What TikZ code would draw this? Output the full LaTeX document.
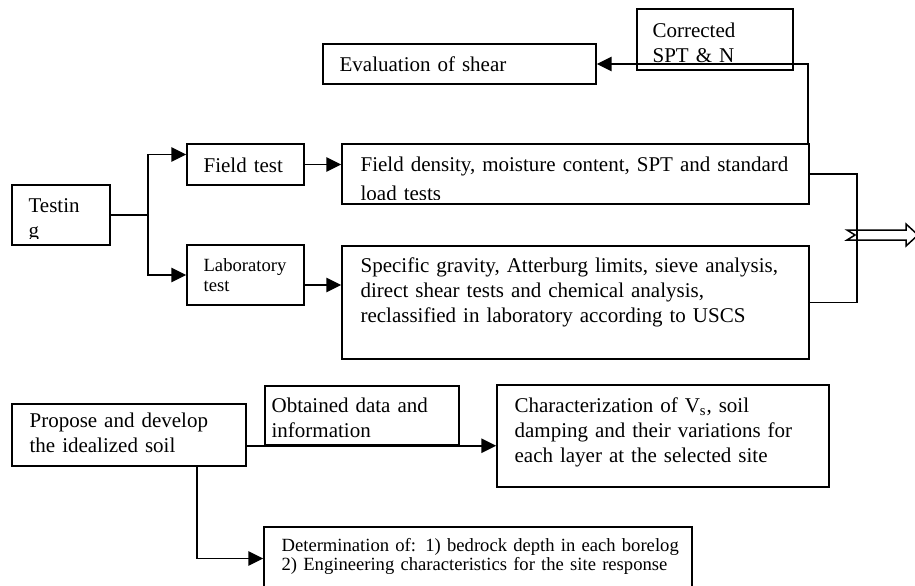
\documentclass[tikz,border=0pt]{standalone}
\usepackage{fontspec}
\setmainfont{Liberation Serif}
\usetikzlibrary{arrows.meta,fit}
\newcommand{\fn}{\fontsize{11.95pt}{14.2pt}\selectfont}
\newcommand{\fs}{\fontsize{10.6pt}{11.4pt}\selectfont}
\tikzset{bx/.style={draw,line width=0.85pt,inner sep=0pt}}
\tikzset{tx/.style={anchor=base west,inner sep=0pt,align=left,font=\fn,text width=#1},tx/.default=4cm}
\tikzset{ln/.style={draw,line width=0.85pt}}
\tikzset{ar/.style={draw,line width=0.85pt,-{Triangle[length=8.5pt,width=8.2pt]}}}

\begin{document}
\begin{tikzpicture}[x=0.02cm,y=-0.02cm]
                \useasboundingbox (0,0) rectangle (915,585);
                % boxes
                \node[bx,fit={(12,185)(110,245)}] (tst) {};
                \node[bx,fit={(187,144)(304,185)}] (fld) {};
                \node[bx,fit={(187,245)(304,305)}] (lab) {};
                \node[bx,fit={(342,144)(809,204)}] (fd) {};
                \node[bx,fit={(342,246)(809,359)}] (ld) {};
                \node[bx,fit={(323,44)(596,84)}] (ev) {};
                \node[bx,fit={(637,9)(793,70)}] (cor) {};
                \node[bx,fit={(12,404)(246,466)}] (pr) {};
                \node[bx,fit={(265,386)(459,445)}] (ob) {};
                \node[bx,fit={(497,385)(829,487)}] (ch) {};
                \node[bx,fit={(264,527)(692,590)}] (det) {};
                % texts
                \begin{scope}
                \clip (tst.north west) rectangle ([shift={(0,-7)}]tst.south east);
                \node[tx=1.5cm] (tst-t) at ([shift={(17,28)}]tst.north west) {Testin\\g};
                \end{scope}
                \node[tx=2cm] (fld-t) at ([shift={(17,29)}]fld.north west) {Field test};
                \node[tx=2cm,font=\fs] (lab-t) at ([shift={(17,27)}]lab.north west) {Laboratory\\test};
                \begin{scope}
                \clip (fd.north west) rectangle ([shift={(0,-5)}]fd.south east);
                \node[tx=8.9cm] (fd-t) at ([shift={(19,28)}]fd.north west) {Field density, moisture content, SPT and standard\\[2.5pt]load tests};
                \end{scope}
                \node[tx=8.9cm] (ld-t) at ([shift={(19,27)}]ld.north west) {Specific gravity, Atterburg limits, sieve analysis,\\direct shear tests and chemical analysis,\\reclassified in laboratory according to USCS};
                \node[tx=5cm] (ev-t) at ([shift={(17,28)}]ev.north west) {Evaluation of shear};
                \node[tx=2.7cm] (cor-t) at ([shift={(16,29)}]cor.north west) {Corrected\\SPT \& N};
                \node[tx=4.3cm] (pr-t) at ([shift={(18,24)}]pr.north west) {Propose and develop\\the idealized soil};
                \node[tx=3.7cm] (ob-t) at ([shift={(7,27)}]ob.north west) {Obtained data and\\information};
                \node[tx=6.2cm] (ch-t) at ([shift={(18,28)}]ch.north west) {Characterization of V\textsubscript{s}, soil\\damping and their variations for\\each layer at the selected site};
                \node[tx=8.2cm,font=\fontsize{10.6pt}{10.8pt}\selectfont] (det-t) at ([shift={(18,25)}]det.north west) {Determination of: 1) bedrock depth in each borelog\\2) Engineering characteristics for the site response};
                % connectors
                \coordinate (br) at (148,215);
                \coordinate (jn) at (857,235);
                \draw[ln] (tst.east) -- (br);
                \draw[ar] (br) |- ([shift={(0,-10)}]fld.west);
                \draw[ar] (br) |- (lab.west);
                \draw[ar] (fld.east) -- (fld.east -| fd.west);
                \draw[ar] ([shift={(0,10)}]lab.east) -- ([shift={(0,10)}]lab.east -| ld.west);
                \draw[ar] ([shift={(-2,0)}]fd.north east) |- (ev.east);
                \draw[ln] (fd.east) -| (jn) |- (ld.east);
                \draw[ln,shift={(jn)}] (-10,-5) -- (49,-5) -- (49,-11) -- (61,0) -- (49,11) -- (49,5) -- (-10,5) -- (-2,0) -- cycle;
                \draw[ar] (pr.east |- ob.south) -- (ob.south -| ch.west);
                \draw[ar] ([shift={(68,0)}]pr.south) |- (det.west);
            \end{tikzpicture}
\end{document}
